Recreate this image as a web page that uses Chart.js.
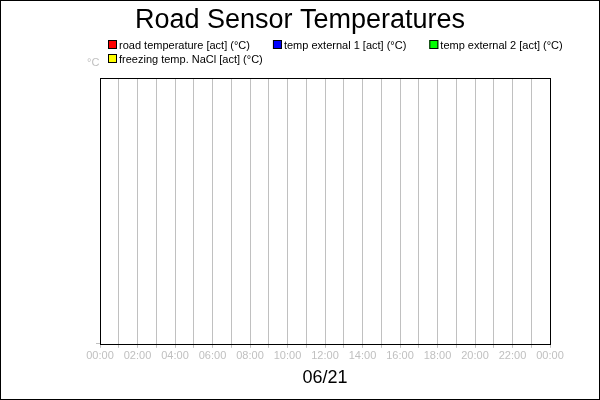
<!DOCTYPE html>
<html>
<head>
<meta charset="utf-8">
<script src="https://cdn.jsdelivr.net/npm/chart.js@4/dist/chart.umd.min.js"></script>
<style>
  html, body { margin: 0; padding: 0; background: #fff; }
  #wrap { width: 600px; height: 400px; }
</style>
</head>
<body>
<div id="wrap"><canvas id="sensorChart" width="600" height="400"></canvas></div>
<script>
// series shown in the legend (no readings recorded for the day)
const seriesNames = ['road temperature [act] (°C)', 'temp external 1 [act] (°C)', 'temp external 2 [act] (°C)', 'freezing temp. NaCl [act] (°C)'];
const seriesColors = ['#ff0000', '#0000ff', '#00ff00', '#ffff00'];
const roadTemp = [];
const external1 = [];
const external2 = [];
const freezingNaCl = [];
const hourTicks = [0, 2, 4, 6, 8, 10, 12, 14, 16, 18, 20, 22, 24];
const dayLabel = '06/21';
const unitLabel = '°C';

const gray = '#c0c0c0';
const fontFamily = 'Arial, "Liberation Sans", sans-serif';

function hourLabel(v) {
  if (!hourTicks.includes(v)) return '';
  const h = v % 24;
  return (h < 10 ? '0' : '') + h + ':00';
}

// legend, unit text, date label and black frames
const decorations = {
  id: 'decorations',
  afterDraw(chart) {
    const ctx = chart.ctx;
    const area = chart.chartArea;
    ctx.save();
    ctx.strokeStyle = '#000';
    ctx.lineWidth = 1;
    ctx.strokeRect(Math.round(area.left) + 0.5, Math.round(area.top) + 0.5,
      Math.round(area.right - area.left), Math.round(area.bottom - area.top));
    ctx.strokeRect(0.5, 0.5, 599, 399);

    ctx.textBaseline = 'alphabetic';
    ctx.font = '18px ' + fontFamily;
    ctx.fillStyle = '#000';
    ctx.textAlign = 'center';
    ctx.fillText(dayLabel, (area.left + area.right) / 2, 383);

    ctx.textAlign = 'left';
    ctx.font = '11px ' + fontFamily;
    ctx.fillStyle = gray;
    ctx.fillText(unitLabel, 87, 66);

    let x = 108, y = 40;
    chart.data.datasets.forEach((ds, i) => {
      if (i > 0 && i % 3 === 0) { x = 108; y += 14; }
      ctx.fillStyle = ds.backgroundColor;
      ctx.fillRect(x, y, 9, 9);
      ctx.strokeStyle = '#000';
      ctx.strokeRect(x + 0.5, y + 0.5, 8, 8);
      ctx.fillStyle = '#000';
      ctx.fillText(ds.label, x + 11, y + 9);
      x += 11 + ctx.measureText(ds.label).width + 23;
    });
    ctx.restore();
  }
};

new Chart(document.getElementById('sensorChart').getContext('2d'), {
  type: 'line',
  data: {
    datasets: [
      { label: seriesNames[0], data: roadTemp, borderColor: seriesColors[0], backgroundColor: seriesColors[0] },
      { label: seriesNames[1], data: external1, borderColor: seriesColors[1], backgroundColor: seriesColors[1] },
      { label: seriesNames[2], data: external2, borderColor: seriesColors[2], backgroundColor: seriesColors[2] },
      { label: seriesNames[3], data: freezingNaCl, borderColor: seriesColors[3], backgroundColor: seriesColors[3] }
    ]
  },
  options: {
    responsive: false,
    animation: false,
    layout: { padding: { left: 50, right: 50, top: 0, bottom: 35 } },
    plugins: {
      legend: { display: false },
      tooltip: { enabled: false },
      title: {
        display: true,
        text: 'Road Sensor Temperatures',
        color: '#000',
        font: { family: fontFamily, size: 27, weight: 'normal' },
        padding: { top: 4, bottom: 41.6 }
      }
    },
    scales: {
      x: {
        type: 'linear',
        min: 0,
        max: 24,
        afterBuildTicks: (scale) => {
          scale.ticks = Array.from({ length: 25 }, (_, h) => ({ value: h }));
        },
        ticks: {
          autoSkip: false,
          maxRotation: 0,
          color: gray,
          padding: 2,
          font: { family: fontFamily, size: 11 },
          callback: (v) => hourLabel(v)
        },
        grid: { color: gray, tickLength: 4, lineWidth: 1 },
        border: { display: false }
      },
      y: {
        type: 'linear',
        min: 0,
        max: 1,
        afterBuildTicks: (scale) => { scale.ticks = [{ value: 0 }]; },
        afterFit: (scale) => { scale.width = 50; },
        ticks: { callback: () => '', padding: 0 },
        grid: { drawOnChartArea: false, color: gray, tickLength: 4 },
        border: { display: false }
      }
    }
  },
  plugins: [decorations]
});
</script>
</body>
</html>
